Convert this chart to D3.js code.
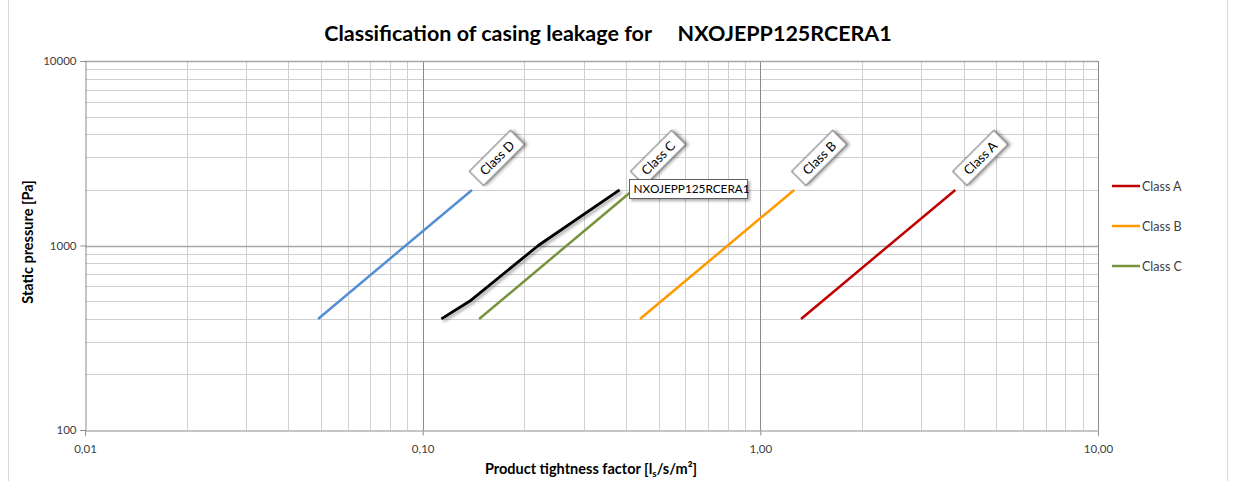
<!DOCTYPE html>
<html><head><meta charset="utf-8">
<script src="https://cdn.jsdelivr.net/npm/d3@7"></script>
<style>
body{margin:0;background:#fff;}
svg text{font-family:Lato,"Open Sans",sans-serif;}
</style></head><body>
<svg id="c" width="1233" height="481"></svg>
<script>
// ---- data ----
const classNames = ["Class A", "Class B", "Class C", "Class D"];
const classColors = ["#C00000", "#FF9900", "#77933C", "#558ED5"];
const classPressures = [400, 2000];
const classA = [1.32, 3.78];
const classB = [0.44, 1.26];
const classC = [0.147, 0.42];
const classD = [0.049, 0.14];
const productName = "NXOJEPP125RCERA1";
const productPressures = [400, 500, 1000, 2000];
const productFactors = [0.1136, 0.138, 0.22, 0.383];
const xTicks = [0.01, 0.1, 1, 10];
const yTicks = [100, 1000, 10000];
const legendNames = ["Class A", "Class B", "Class C"];

const svg = d3.select("#c");
const L = 85, R = 1098, T = 61, B = 430;
const x = d3.scaleLog().domain([0.01, 10]).range([L, R]);
const y = d3.scaleLog().domain([100, 10000]).range([B, T]);

// outer border
svg.append("rect").attr("x", 8.5).attr("y", -1).attr("width", 1219).attr("height", 500)
  .attr("fill", "none").attr("stroke", "#d9d9d9");

const defs = svg.append("defs");
const f = defs.append("filter").attr("id", "sh").attr("x", "-20%").attr("y", "-20%").attr("width", "150%").attr("height", "150%");
f.append("feDropShadow").attr("dx", 2).attr("dy", 2).attr("stdDeviation", 1.6).attr("flood-color", "#000").attr("flood-opacity", 0.35);

// grid
const minorX = [], minorY = [];
for (let d = 0.01; d < 10; d *= 10) for (let k = 2; k <= 9; k++) minorX.push(d * k);
for (let d = 100; d < 10000; d *= 10) for (let k = 2; k <= 9; k++) minorY.push(d * k);
const g = svg.append("g");
g.selectAll(".mx").data(minorX).join("line")
  .attr("x1", d => Math.round(x(d)) + 0.5).attr("x2", d => Math.round(x(d)) + 0.5)
  .attr("y1", T).attr("y2", B).attr("stroke", "#d0d0d0");
g.selectAll(".my").data(minorY).join("line")
  .attr("y1", d => Math.round(y(d)) + 0.5).attr("y2", d => Math.round(y(d)) + 0.5)
  .attr("x1", L).attr("x2", R).attr("stroke", "#d0d0d0");
g.selectAll(".Mx").data(xTicks.slice(1)).join("line")
  .attr("x1", d => Math.round(x(d)) + 0.5).attr("x2", d => Math.round(x(d)) + 0.5)
  .attr("y1", T).attr("y2", B).attr("stroke", "#8c8c8c");
g.selectAll(".My").data(yTicks.slice(1)).join("line")
  .attr("y1", d => Math.round(y(d)) + 0.5).attr("y2", d => Math.round(y(d)) + 0.5)
  .attr("x1", L).attr("x2", R).attr("stroke", "#a6a6a6").attr("stroke-width", 1.5);

// axes
const fmtX = d => d3.format(".2f")(d).replace(".", ",");
const xAxis = d3.axisBottom(x).tickValues(xTicks).tickFormat(fmtX).tickSize(5).tickPadding(6);
const yAxis = d3.axisLeft(y).tickValues(yTicks).tickFormat(d3.format("d")).tickSize(5).tickPadding(4);
const gx = svg.append("g").attr("transform", `translate(0,${B + 0.5})`).call(xAxis);
const gy = svg.append("g").attr("transform", `translate(${L + 0.5},0)`).call(yAxis);
[gx, gy].forEach(a => {
  a.select(".domain").attr("stroke", "#8c8c8c");
  a.selectAll(".tick line").attr("stroke", "#8c8c8c");
  a.selectAll(".tick text").attr("font-size", 11.5).attr("fill", "#404040").attr("font-family", "Lato");
});
gx.selectAll(".tick text").attr("dy", "1em");

// class lines
const classData = [classA, classB, classC, classD];
const line = d3.line().x(d => x(d[0])).y(d => y(d[1]));
classData.forEach((vals, i) => {
  const pts = vals.map((v, j) => [v, classPressures[j]]);
  svg.append("path").attr("d", line(pts)).attr("fill", "none")
    .attr("stroke", classColors[i]).attr("stroke-width", 2.5);
  // rotated label
  const ex = x(vals[1]) + 25, ey = y(classPressures[1]) - 32;
  const lg = svg.append("g").attr("transform", `translate(${ex},${ey}) rotate(-45)`);
  lg.append("rect").attr("x", -29).attr("y", -10).attr("width", 58).attr("height", 20)
    .attr("fill", "#fff").attr("stroke", "#404040").attr("stroke-width", 0.8).attr("filter", "url(#sh)");
  lg.append("text").attr("text-anchor", "middle").attr("dy", "0.36em")
    .attr("font-size", 13).attr("fill", "#000").text(classNames[i]);
});

// product line
const ppts = productFactors.map((v, j) => [v, productPressures[j]]);
svg.append("path").attr("d", line(ppts))
  .attr("fill", "none").attr("stroke", "#000").attr("stroke-width", 2.8)
  .attr("stroke-linejoin", "round").attr("filter", "url(#sh)");
const px = x(productFactors[3]) + 10, py = y(productPressures[3]);
svg.append("rect").attr("x", px).attr("y", py - 10.5).attr("width", 118).attr("height", 19)
  .attr("fill", "#fff").attr("stroke", "#404040").attr("stroke-width", 0.8).attr("filter", "url(#sh)");
svg.append("text").attr("x", px + 4).attr("y", py - 1).attr("dy", "0.36em")
  .attr("font-size", 11.8).attr("fill", "#000").text(productName);

// legend
legendNames.forEach((n, i) => {
  const ly = 186 + i * 40;
  svg.append("line").attr("x1", 1112).attr("x2", 1140).attr("y1", ly).attr("y2", ly)
    .attr("stroke", classColors[classNames.indexOf(n)]).attr("stroke-width", 2.5);
  svg.append("text").attr("x", 1142).attr("y", ly).attr("dy", "0.36em")
    .attr("font-size", 12.5).attr("fill", "#404040").text(n);
});

// titles
svg.append("text").attr("x", 608).attr("y", 41).attr("text-anchor", "middle")
  .attr("font-size", 21.5).attr("font-weight", "bold").attr("fill", "#000")
  .attr("xml:space", "preserve").style("white-space", "pre")
  .text("Classification of casing leakage for     " + productName);
svg.append("text").attr("transform", "translate(33,242) rotate(-90)").attr("text-anchor", "middle")
  .attr("font-size", 14.5).attr("font-weight", "bold").attr("fill", "#000").text("Static pressure [Pa]");
const xt = svg.append("text").attr("x", 591).attr("y", 474).attr("text-anchor", "middle")
  .attr("font-size", 14.5).attr("font-weight", "bold").attr("fill", "#000");
xt.append("tspan").text("Product tightness factor [l");
xt.append("tspan").attr("font-size", 10).attr("dy", 3).text("s");
xt.append("tspan").attr("dy", -3).text("/s/m²]");
</script>
</body></html>
